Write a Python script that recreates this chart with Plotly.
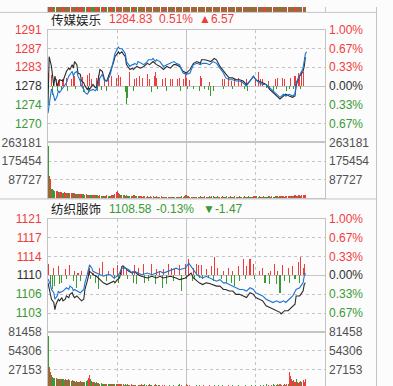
import plotly.graph_objects as go

# ---------------- data: panel 1 (传媒娱乐) ----------------
p1_name = "传媒娱乐"
p1_prev_close = 1278.26
p1_last = 1284.83

p1_idx_min = [0, 1, 3, 5, 6, 8, 10, 13, 16, 18, 19, 21, 22, 23, 25, 26, 28, 29, 31, 32, 34, 35, 36, 38, 39, 41, 42, 44, 45,
              47, 48, 49, 51, 52, 54, 55, 57, 58, 60, 61, 62, 64, 65, 67, 68, 70, 71, 73, 74, 77, 80, 83, 86, 88, 91, 94,
              97, 100, 103, 106, 109, 111, 114, 117, 120, 123, 126, 129, 132, 133, 136, 139, 141, 144, 146, 149, 152, 154,
              157, 160, 163, 166, 169, 172, 175, 178, 180, 183, 186, 189, 192, 195, 198, 201, 204, 206, 209, 212, 214, 215,
              217, 218, 219, 221, 222, 223]
p1_idx_val = [1273.8, 1284.9, 1282.7, 1278.3, 1280.5, 1278.3, 1279.7, 1279.4, 1281.6, 1282.3, 1282.0, 1283.1, 1282.3, 1283.8,
              1283.1, 1281.2, 1280.9, 1279.4, 1279.0, 1278.3, 1277.5, 1277.9, 1277.5, 1278.3, 1278.6, 1277.9, 1277.9, 1280.5,
              1282.0, 1281.6, 1280.5, 1279.7, 1279.4, 1280.1, 1281.2, 1282.3, 1283.8, 1284.9, 1285.6, 1286.0, 1285.6, 1286.0,
              1285.6, 1284.9, 1283.1, 1282.3, 1282.0, 1282.3, 1282.0, 1282.7, 1282.3, 1282.7, 1283.4, 1283.1, 1283.8, 1283.1,
              1282.7, 1282.0, 1282.7, 1282.3, 1283.1, 1283.1, 1282.7, 1281.6, 1281.2, 1282.0, 1283.4, 1283.8, 1283.4, 1284.2,
              1284.2, 1284.0, 1283.8, 1284.5, 1284.2, 1282.7, 1281.6, 1281.0, 1280.1, 1280.1, 1279.7, 1279.7, 1279.4, 1278.6,
              1279.4, 1280.5, 1279.7, 1279.4, 1279.0, 1278.6, 1277.5, 1276.8, 1276.0, 1275.3, 1276.0, 1276.4, 1276.0, 1275.7,
              1276.0, 1278.3, 1280.1, 1280.5, 1280.9, 1281.6, 1282.7, 1284.8]

p1_avg_min = [0, 2, 3, 5, 6, 8, 9, 10, 12, 13, 15, 16, 18, 19, 21, 22, 23, 25, 26, 28, 29, 31, 32, 34, 35, 36, 39, 41, 42,
              44, 45, 47, 48, 49, 51, 52, 54, 55, 57, 58, 60, 61, 62, 64, 65, 67, 68, 70, 71, 73, 74, 75, 77, 78, 81, 83,
              86, 87, 90, 91, 93, 94, 97, 100, 103, 106, 109, 111, 114, 117, 120, 123, 126, 129, 132, 134, 137, 140, 143,
              146, 149, 152, 154, 157, 160, 163, 166, 169, 172, 175, 178, 180, 183, 186, 189, 192, 195, 198, 201, 204, 206,
              209, 212, 214, 215, 217, 218, 219, 221, 222, 223, 224]
p1_avg_val = [1272.1, 1275.4, 1277.6, 1276.0, 1274.9, 1276.0, 1277.2, 1276.8, 1277.5, 1277.9, 1278.6, 1279.0, 1280.5, 1280.9,
              1281.6, 1280.5, 1281.2, 1281.6, 1280.5, 1279.4, 1278.3, 1277.5, 1276.8, 1276.4, 1276.8, 1277.2, 1277.5, 1277.2,
              1277.5, 1279.0, 1280.1, 1280.9, 1280.1, 1279.4, 1279.4, 1279.7, 1280.9, 1282.3, 1284.2, 1285.6, 1286.7, 1287.1,
              1286.7, 1286.7, 1286.4, 1285.6, 1283.8, 1283.1, 1282.7, 1283.1, 1283.1, 1283.4, 1283.1, 1283.8, 1283.4, 1283.1,
              1283.8, 1284.2, 1284.2, 1284.5, 1283.8, 1284.2, 1283.8, 1282.7, 1283.1, 1283.4, 1283.8, 1283.4, 1283.1, 1281.2,
              1280.9, 1281.2, 1283.1, 1283.4, 1283.1, 1283.4, 1283.4, 1283.1, 1283.8, 1283.4, 1282.3, 1281.2, 1280.1, 1279.7,
              1279.7, 1279.4, 1279.4, 1279.0, 1278.3, 1279.4, 1280.5, 1279.7, 1279.0, 1278.6, 1278.6, 1277.9, 1277.2, 1276.4,
              1275.7, 1276.4, 1276.0, 1276.4, 1276.0, 1276.4, 1279.0, 1280.1, 1280.9, 1281.2, 1282.3, 1284.2, 1285.6, 1286.0]

# buying / selling strength bars (index points away from previous close)
p1_up_min = [0, 3, 5, 7, 9, 10, 13, 16, 20, 22, 23, 28, 30, 34, 36, 38, 42, 44, 45, 49, 52, 55, 59, 61, 63, 71, 75, 77, 79,
             82, 86, 88, 92, 93, 94, 99, 102, 106, 108, 112, 114, 117, 119, 120, 123, 132, 133, 140, 151, 153, 156, 159,
             162, 165, 168, 171, 172, 180, 182, 184, 186, 191, 197, 199, 203, 205, 210, 214, 217, 218, 220, 221]
p1_up_val = [2.9, 2.4, 1.1, 1.55, 1.3, 1.1, 1.55, 1.8, 1.55, 2.4, 2.2, 1.55, 2.0, 2.4, 2.9, 1.55, 1.8, 2.4, 1.8, 1.55, 2.4,
             2.2, 1.8, 2.4, 2.0, 3.1, 1.55, 1.8, 2.2, 1.8, 2.7, 1.55, 2.2, 3.1, 1.8, 1.55, 1.8, 1.55, 1.55, 1.55, 1.8, 1.55,
             2.9, 1.8, 1.3, 2.2, 1.8, 0.9, 1.55, 1.55, 1.8, 1.1, 1.55, 1.8, 1.1, 0.7, 1.55, 1.55, 3.1, 1.55, 1.55, 1.1,
             1.55, 1.8, 1.8, 1.55, 1.8, 2.2, 2.9, 2.2, 3.3, 3.1]
p1_dn_min = [4, 8, 12, 17, 24, 31, 35, 43, 46, 51, 67, 68, 69, 74, 90, 95, 103, 115, 121, 126, 131, 136, 139, 141, 143, 152,
             160, 170, 173, 189, 192, 195, 198, 207, 209, 213, 219]
p1_dn_val = [2.0, 1.1, 0.9, 1.1, 0.7, 1.3, 1.55, 1.1, 0.9, 1.1, 1.3, 4.0, 2.7, 1.1, 1.3, 0.7, 1.1, 1.1, 0.7, 0.7, 1.1, 0.7,
             0.9, 2.2, 1.1, 0.7, 0.7, 0.7, 1.1, 0.5, 0.7, 1.1, 0.7, 1.1, 0.7, 0.7, 0.7]

# per-minute volume (thousands) and direction (r = up, g = down)
p1_vol_k = [245, 106, 92, 46, 46, 40, 37, 37, 33, 32,
            30, 32, 30, 28, 30, 28, 26, 28, 27, 26,
            26, 25, 24, 25, 23, 23, 22, 22, 21, 20,
            20, 19, 18, 19, 17, 18, 16, 17, 15, 16,
            15, 14, 15, 14, 13, 14, 13, 12, 13, 12,
            12, 14, 13, 12, 13, 14, 15, 14, 20, 30,
            37, 24, 20, 18, 16, 15, 14, 13, 14, 12,
            13, 12, 11, 12, 14, 16, 13, 12, 11, 10,
            11, 10, 9, 10, 11, 9, 10, 9, 8, 10,
            9, 10, 8, 9, 10, 9, 8, 9, 10, 8,
            9, 8, 9, 8, 7, 9, 8, 9, 8, 7,
            8, 9, 7, 8, 9, 8, 10, 9, 12, 14,
            16, 12, 10, 9, 8, 9, 8, 7, 8, 9,
            8, 9, 10, 8, 9, 8, 10, 9, 8, 9,
            10, 9, 11, 10, 9, 8, 9, 10, 9, 8,
            9, 10, 9, 8, 9, 10, 8, 9, 10, 9,
            8, 9, 10, 8, 9, 8, 10, 9, 8, 9,
            10, 9, 8, 9, 10, 9, 8, 9, 10, 11,
            12, 10, 9, 10, 9, 8, 9, 10, 9, 8,
            9, 10, 11, 9, 10, 9, 8, 10, 11, 10,
            9, 10, 11, 12, 10, 9, 10, 11, 12, 11,
            12, 13, 11, 12, 14, 13, 12, 14, 15, 13,
            14, 16, 15, 18]
p1_vol_dir = ("grrggggrrr" "grrgrrgrrg" "rgrrggrgrr" "ggrrgrgggr" "rgggrrgrgr" "grggrrgrrr" "rrgrgggrgr"
              "gggrrgrgrg" "rrgrgrrggr" "grgrgrrgrg" "rgrrgrgrrg" "grgrrggrgr" "rgrrgrgrgr" "rggrgrrgrg"
              "grrgrgggrr" "grgrggrgrg" "ggrgggrggr" "grgrggrgrr" "rgrggrgrgg" "grggrgrggr" "grgrrgrrrr"
              "grrgrrrrgr" "rrrr")
p1_vol_ticks = [87727, 175454, 263181]

# ---------------- data: panel 2 (纺织服饰) ----------------
p2_name = "纺织服饰"
p2_prev_close = 1110.05
p2_last = 1108.58

p2_idx_min = [0, 1, 2, 3, 5, 6, 7, 9, 10, 12, 13, 15, 16, 18, 19, 21, 22, 23, 25, 28, 29, 31, 32, 34, 35, 36, 38, 39, 42,
              45, 48, 51, 54, 57, 58, 60, 62, 64, 65, 67, 70, 73, 75, 78, 81, 86, 90, 94, 97, 100, 106, 111, 114, 119,
              122, 124, 126, 129, 131, 134, 137, 140, 143, 146, 149, 152, 154, 157, 160, 163, 166, 169, 172, 175, 178, 180,
              183, 186, 189, 192, 195, 198, 201, 202, 205, 208, 211, 214, 215, 218, 219, 221, 222, 223]
p2_idx_val = [1108.57, 1107.28, 1106.64, 1105.36, 1104.72, 1103.32, 1104.39, 1105.36, 1105.05, 1105.68, 1105.05, 1105.36,
              1106.01, 1105.68, 1106.32, 1106.64, 1106.01, 1105.68, 1106.01, 1105.36, 1105.05, 1105.36, 1107.28, 1108.90,
              1110.17, 1110.82, 1110.49, 1110.17, 1109.86, 1109.20, 1108.57, 1108.24, 1108.57, 1108.90, 1108.57, 1109.20,
              1109.53, 1111.78, 1111.90, 1111.45, 1110.82, 1110.49, 1110.82, 1110.17, 1109.86, 1109.53, 1109.86, 1109.53,
              1109.86, 1109.53, 1109.86, 1109.53, 1109.20, 1109.53, 1110.17, 1110.49, 1109.53, 1108.90, 1108.57, 1108.24,
              1108.57, 1108.43, 1108.24, 1107.93, 1107.93, 1107.28, 1107.28, 1106.97, 1106.97, 1106.32, 1106.32, 1106.01,
              1105.68, 1106.64, 1106.32, 1105.68, 1105.36, 1105.05, 1104.09, 1103.76, 1103.43, 1103.12, 1102.80, 1102.47,
              1103.12, 1103.12, 1103.76, 1104.39, 1106.01, 1106.01, 1106.32, 1106.97, 1108.24, 1108.58]

p2_avg_min = [0, 2, 3, 5, 6, 8, 9, 10, 13, 15, 16, 18, 19, 21, 22, 23, 25, 28, 31, 32, 34, 35, 36, 38, 39, 42, 45, 48, 51,
              54, 57, 60, 62, 64, 67, 70, 73, 75, 78, 81, 86, 90, 94, 97, 100, 104, 109, 111, 114, 119, 122, 124, 126, 129,
              131, 134, 137, 140, 143, 146, 149, 152, 154, 157, 160, 163, 166, 169, 172, 175, 178, 180, 183, 186, 189, 192,
              195, 198, 201, 204, 206, 209, 212, 215, 218, 219, 221, 222, 223]
p2_avg_val = [1109.34, 1108.24, 1107.28, 1106.64, 1105.36, 1106.01, 1106.97, 1106.64, 1106.97, 1107.28, 1107.61, 1107.28,
              1107.93, 1107.61, 1106.97, 1107.28, 1106.97, 1106.64, 1107.28, 1108.57, 1110.17, 1111.13, 1112.09, 1111.45,
              1110.82, 1110.49, 1110.17, 1109.86, 1110.17, 1110.17, 1109.53, 1109.86, 1110.49, 1111.45, 1111.45, 1111.13,
              1110.49, 1110.82, 1110.49, 1110.17, 1110.49, 1110.17, 1110.49, 1110.82, 1110.49, 1110.82, 1111.13, 1111.45,
              1111.13, 1111.45, 1112.42, 1111.78, 1111.13, 1110.17, 1109.86, 1109.53, 1109.86, 1109.53, 1109.20, 1108.90,
              1109.20, 1108.57, 1108.57, 1108.24, 1107.93, 1107.61, 1107.28, 1107.28, 1106.97, 1107.61, 1107.28, 1106.64,
              1106.32, 1106.01, 1105.36, 1105.05, 1104.72, 1105.05, 1104.72, 1105.05, 1104.72, 1105.36, 1106.01, 1107.28,
              1107.61, 1107.93, 1108.57, 1109.86, 1110.49]

p2_up_min = [0, 5, 9, 15, 19, 23, 26, 29, 35, 36, 39, 45, 47, 52, 57, 60, 64, 65, 68, 73, 75, 78, 83, 90, 94, 97, 100, 104,
             107, 110, 114, 119, 122, 126, 129, 130, 133, 137, 142, 144, 147, 152, 156, 160, 165, 169, 172, 175, 178,
             183, 186, 191, 193, 196, 199, 203, 208, 212, 217, 219, 221, 222]
p2_up_val = [2.3, 1.35, 1.75, 1.15, 2.1, 0.75, 0.4, 0.75, 1.15, 1.35, 0.4, 1.35, 2.7, 0.75, 1.35, 2.1, 1.15, 1.9, 1.35,
             0.75, 2.1, 1.35, 2.3, 2.3, 1.15, 0.75, 1.15, 2.3, 1.35, 1.15, 2.1, 2.3, 3.1, 1.35, 2.3, 2.1, 2.1, 1.15, 1.75,
             3.65, 1.35, 0.75, 1.35, 0.75, 1.75, 3.25, 1.75, 3.1, 2.3, 0.75, 1.35, 0.4, 0.75, 2.3, 0.75, 2.1, 1.35, 1.75,
             2.7, 3.65, 1.35, 2.3]
p2_dn_min = [2, 4, 6, 10, 12, 16, 22, 25, 28, 37, 41, 44, 51, 58, 61, 69, 74, 77, 84, 87, 93, 99, 103, 109, 116, 120, 125,
             127, 131, 134, 139, 143, 150, 155, 159, 162, 166, 171, 179, 188, 192, 198, 201, 205, 209, 214, 218]
p2_dn_val = [1.75, 2.7, 2.1, 1.75, 1.55, 0.75, 1.15, 2.5, 1.15, 0.75, 1.55, 2.7, 1.15, 0.75, 1.55, 0.75, 1.55, 1.75, 1.55,
             1.15, 1.75, 2.5, 1.75, 1.15, 3.1, 0.75, 1.15, 0.75, 0.6, 0.75, 0.6, 1.15, 0.75, 1.55, 1.55, 2.1, 1.15, 0.75,
             0.75, 1.55, 1.75, 1.75, 3.45, 1.15, 1.55, 0.75, 1.55]

p2_vol_k = [75.8, 31, 24, 19, 17, 15, 15, 15, 14, 14,
            14, 13, 14, 13, 12, 13, 12, 12, 13, 12,
            11, 12, 11, 11, 10, 11, 10, 10, 11, 10,
            10, 9, 10, 11, 12, 15, 20, 14, 11, 9,
            9, 8, 9, 8, 8, 7, 8, 7, 7, 7,
            6, 7, 6, 6, 7, 6, 6, 6, 7, 6,
            6, 6, 7, 6, 6, 6, 5, 6, 5, 6,
            5, 5, 6, 5, 5, 5, 5, 4, 5, 5,
            5, 6, 5, 5, 6, 5, 4, 5, 6, 5,
            5, 4, 5, 6, 5, 4, 5, 5, 4, 5,
            4, 5, 4, 3, 4, 5, 4, 3, 4, 5,
            4, 3, 4, 5, 6, 4, 5, 4, 3, 4,
            7, 5, 4, 5, 4, 3, 4, 4, 3, 5,
            4, 5, 4, 3, 4, 5, 4, 3, 4, 4,
            5, 4, 3, 4, 5, 4, 3, 4, 5, 4,
            4, 5, 4, 3, 4, 4, 5, 4, 3, 4,
            5, 4, 4, 3, 4, 5, 4, 3, 4, 4,
            4, 5, 4, 4, 3, 4, 5, 4, 3, 4,
            5, 4, 4, 3, 5, 4, 4, 5, 4, 6,
            4, 5, 4, 4, 5, 6, 5, 4, 5, 6,
            5, 6, 5, 4, 5, 6, 5, 7, 6, 24,
            18, 14, 11, 12, 10, 13, 9, 8, 10, 11,
            9, 12, 10, 13]
p2_vol_dir = ("grrggggrgg" "rgrggrgrrg" "grgrggrgrg" "grgggrrggr" "gggrgrgggr" "grggrgrggr" "grrrgrggrg"
              "grrgrgrggr" "grgrggrgrg" "grgrgggrgr" "grgrggrgrg" "rgrggrrgrg" "rgrrgrgrgg" "rgrrgrgrgg"
              "rgrrgrgrgg" "rggrggrgrg" "gggrgggrgg" "rggrgrgggr" "ggrgggrggg" "grggrgggrg" "grgrrrgrgr"
              "rrgrrgrrrg" "rrrr")
p2_vol_ticks = [27153, 54306, 81458]

# bottom edge of the volume bars of the panel above (cropped at the top of the view)
strip_dir = ("rgrrgrggrr" "grgrrgrgrg" "rrgrgrrgrr" "grgrgrrgrg" "rgrrgrgrrg" "rgrgrrgrgr" "rgrrgrgrrg"
             "grgrrgrgrg" "rgrgrgrrgr" "grrgrgrgrr" "grgrgrrgrg" "rrgrgrgrrg" "rgrgrrgrgr" "grrgrgrgrr"
             "grgrgrrgrg" "rgrrgrgrgr" "rgrgrrgrgr" "grrgrgrgrr" "grgrgrrgrg" "rgrrgrgrgr" "rgrgrrgrgr"
             "grrgrgrgrr" "grgr")

pct_ticks = [1.0, 2 / 3, 1 / 3, 0.0, -1 / 3, -2 / 3]
session_minutes = [0, 240]
quarter_marks = [60, 180]
midday_mark = [120]

# ---------------- styling ----------------
W, H = 393, 386
RED = "#f03c3c"
GREEN = "#3a9a34"
DARK = "#303030"
GRAYTXT = "#505050"
GRID = "#c4c4c4"
BG = "#fcfcfc"
BLUE = "#1a74d2"
BLACKLINE = "#2b2b2b"
NUMFONT = "Liberation Sans, Arial, sans-serif"
CJKFONT = "Noto Sans CJK SC, sans-serif"


def fy(p):
    return 1 - p / H


XDOM = [48 / W, 325 / W]


def span(txt, color):
    return f'<span style="color:{color}">{txt}</span>'


def pct_color(p):
    return RED if p > 1e-9 else (GREEN if p < -1e-9 else DARK)


fig = go.Figure()

panels = [
    dict(name=p1_name, prev=p1_prev_close, last=p1_last, im=p1_idx_min, iv=p1_idx_val, am=p1_avg_min, av=p1_avg_val,
         um=p1_up_min, uv=p1_up_val, dm=p1_dn_min, dv=p1_dn_val, vol=p1_vol_k, vdir=p1_vol_dir, vt=p1_vol_ticks,
         pdom=[fy(138), fy(23)], vdom=[fy(195), fy(138)], vlow_px=0.0, title_y=fy(12.5),
         xa=("x", "x2"), ya=("y", "y2"), ra=("y6", "y7"), tx=(48.5, 107, 157, 197)),
    dict(name=p2_name, prev=p2_prev_close, last=p2_last, im=p2_idx_min, iv=p2_idx_val, am=p2_avg_min, av=p2_avg_val,
         um=p2_up_min, uv=p2_up_val, dm=p2_dn_min, dv=p2_dn_val, vol=p2_vol_k, vdir=p2_vol_dir, vt=p2_vol_ticks,
         pdom=[fy(331), fy(215.5)], vdom=[0, fy(331)], vlow_px=2.5, title_y=fy(205.5),
         xa=("x3", "x4"), ya=("y3", "y4"), ra=("y8", "y9"), tx=(48.5, 107, 154, 201)),
]

layout = dict(
    width=W, height=H, margin=dict(l=0, r=0, t=0, b=0),
    paper_bgcolor=BG, plot_bgcolor=BG, showlegend=False, bargap=0, barmode="overlay", hovermode=False,
    annotations=[], shapes=[],
)


def axname(a):
    return "xaxis" + a[1:] if a.startswith("x") else "yaxis" + a[1:]


def x_axis(anchor):
    return dict(domain=XDOM, range=session_minutes, anchor=anchor, showticklabels=False, ticks="",
                tickvals=midday_mark, showgrid=True, gridcolor=GRID, gridwidth=1, zeroline=False,
                showline=True, linecolor=GRID, linewidth=1, mirror=True, fixedrange=True,
                minor=dict(tickvals=quarter_marks, showgrid=True, gridcolor=GRID, griddash="dot", gridwidth=1))


for P in panels:
    prev = P["prev"]
    xp, xv = P["xa"]
    yp, yv = P["ya"]
    rp, rv = P["ra"]
    lo, hi = prev * 0.99, prev * 1.01
    tvals = [prev * (1 + p / 100) for p in pct_ticks]

    # strength bars
    fig.add_trace(go.Bar(x=P["um"], y=P["uv"], base=prev, marker=dict(color=RED, line=dict(width=0)), width=0.9,
                         xaxis=xp, yaxis=yp))
    fig.add_trace(go.Bar(x=P["dm"], y=[-v for v in P["dv"]], base=prev, marker=dict(color=GREEN, line=dict(width=0)),
                         width=0.9, xaxis=xp, yaxis=yp))
    # price lines
    fig.add_trace(go.Scatter(x=P["im"], y=P["iv"], mode="lines", line=dict(color=BLACKLINE, width=1.1),
                             xaxis=xp, yaxis=yp))
    fig.add_trace(go.Scatter(x=P["am"], y=P["av"], mode="lines", line=dict(color=BLUE, width=1.1),
                             xaxis=xp, yaxis=yp))
    # volume
    vols = [v * 1000 for v in P["vol"]]
    fig.add_trace(go.Bar(x=list(range(len(vols))), y=vols,
                         marker=dict(color=[RED if c == "r" else GREEN for c in P["vdir"]], line=dict(width=0)),
                         width=0.9, xaxis=xv, yaxis=yv))
    # empty traces so the right-hand axes exist
    fig.add_trace(go.Scatter(x=[], y=[], xaxis=xp, yaxis=rp))
    fig.add_trace(go.Scatter(x=[], y=[], xaxis=xv, yaxis=rv))

    layout[axname(xp)] = x_axis(yp)
    layout[axname(xv)] = x_axis(yv)

    ptext = [span(f"{v:.0f}", pct_color(p)) for v, p in zip(tvals, pct_ticks)]
    rtext = [span(f"{abs(p):.2f}%", pct_color(p)) for p in pct_ticks]
    tickfont = dict(family=NUMFONT, size=12, color=DARK)
    layout[axname(yp)] = dict(domain=P["pdom"], range=[lo, hi], anchor=xp, side="left", tickvals=tvals,
                              ticktext=ptext, showgrid=False, zeroline=False, showline=True, linecolor=GRID,
                              mirror=True, ticks="", tickfont=tickfont, ticklabelstandoff=3, fixedrange=True,
                              minor=dict(tickvals=[tvals[1], tvals[2], tvals[4], tvals[5]], showgrid=True,
                                         gridcolor=GRID, griddash="dot", gridwidth=1))
    layout[axname(rp)] = dict(range=[-1, 1], overlaying=yp, anchor=xp, side="right", tickvals=pct_ticks,
                              ticktext=rtext, showgrid=False, zeroline=True, zerolinecolor=GRID, zerolinewidth=1,
                              showline=False, ticks="", tickfont=tickfont, ticklabelstandoff=3, fixedrange=True)

    vt = P["vt"]
    vtop = vt[-1]
    vlow = vtop * P["vlow_px"] / (3 * 19.17)
    vtext = [f"{v}" for v in vt]
    vfont = dict(family=NUMFONT, size=12, color=GRAYTXT)
    layout[axname(yv)] = dict(domain=P["vdom"], range=[vlow, vtop], anchor=xv, side="left", tickvals=vt,
                              ticktext=vtext, showgrid=False, zeroline=False, showline=True, linecolor=GRID,
                              mirror=True, ticks="", tickfont=vfont, ticklabelstandoff=3, fixedrange=True,
                              minor=dict(tickvals=vt[:-1], showgrid=True, gridcolor=GRID, griddash="dot",
                                         gridwidth=1))
    layout[axname(rv)] = dict(range=[vlow, vtop], overlaying=yv, anchor=xv, side="right", tickvals=vt,
                              ticktext=vtext, showgrid=False, zeroline=False, showline=False, ticks="",
                              tickfont=vfont, ticklabelstandoff=3, fixedrange=True)

    # header texts
    chg = P["last"] - prev
    pct = chg / prev * 100
    col = RED if chg > 0 else GREEN
    arrow = "▲" if chg > 0 else "▼"
    tx = P["tx"]
    hdr = [
        (tx[0], P["name"], "#222222", CJKFONT, 12.5),
        (tx[1], f"{P['last']:.2f}", col, NUMFONT, 12),
        (tx[2], f"{pct:.2f}%", col, NUMFONT, 12),
        (tx[3], f"{arrow}{chg:.2f}", col, NUMFONT, 12),
    ]
    for xpx, txt, c, fam, sz in hdr:
        layout["annotations"].append(dict(x=xpx / W, y=P["title_y"], xref="paper", yref="paper", text=txt,
                                          showarrow=False, xanchor="left", yanchor="middle",
                                          font=dict(family=fam, size=sz, color=c)))

# cropped strip of the panel above
fig.add_trace(go.Bar(x=list(range(len(strip_dir))), y=[1] * len(strip_dir),
                     marker=dict(color=[RED if c == "r" else GREEN for c in strip_dir], line=dict(width=0)),
                     width=0.9, xaxis="x5", yaxis="y5"))
layout["xaxis5"] = x_axis("y5")
layout["xaxis5"]["mirror"] = False
layout["xaxis5"]["showline"] = False
layout["yaxis5"] = dict(domain=[fy(5), 1], range=[0, 1], anchor="x5", showticklabels=False, showgrid=False,
                        zeroline=False, showline=True, linecolor=GRID, mirror=True, ticks="", fixedrange=True)

# panel separators
for ypx in (5, 195):
    layout["shapes"].append(dict(type="line", xref="paper", yref="paper", x0=0, x1=376.5 / W, y0=fy(ypx + 0.5),
                                 y1=fy(ypx + 0.5), line=dict(color=GRID, width=1)))
layout["shapes"].append(dict(type="line", xref="paper", yref="paper", x0=376.5 / W, x1=376.5 / W, y0=0, y1=1,
                             line=dict(color=GRID, width=1)))

fig.update_layout(**layout)
fig.write_html("out.html", config=dict(displayModeBar=False, staticPlot=True),
               post_script="document.body.style.margin='0';document.body.style.overflow='hidden';")
